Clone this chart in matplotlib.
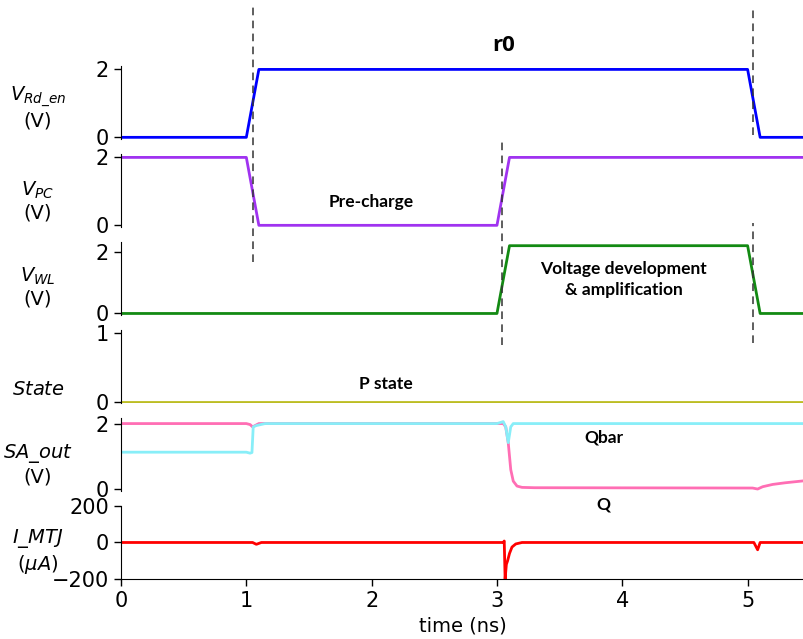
import matplotlib.pyplot as plt
from matplotlib.lines import Line2D
from matplotlib.transforms import blended_transform_factory

# time axis (ns) and waveforms
t_rd = [0, 1.0, 1.1, 5.0, 5.1, 5.45]
v_rd = [0, 0, 2, 2, 0, 0]

t_pc = [0, 1.0, 1.1, 3.0, 3.1, 5.45]
v_pc = [2, 2, 0, 0, 2, 2]

t_wl = [0, 3.0, 3.1, 5.0, 5.1, 5.45]
v_wl = [0, 0, 2.2, 2.2, 0, 0]

t_state = [0, 5.45]
v_state = [0, 0]

t_q = [0, 1.0, 1.03, 1.05, 1.1, 3.05, 3.07, 3.09, 3.11, 3.13, 3.16, 3.2, 3.3, 5.04, 5.08, 5.12, 5.2, 5.3, 5.45]
v_q = [2, 2, 1.97, 1.9, 2.0, 2.0, 1.9, 1.42, 0.6, 0.25, 0.1, 0.06, 0.05, 0.04, 0.01, 0.08, 0.15, 0.2, 0.26]

t_qbar = [0, 1.0, 1.03, 1.045, 1.055, 1.08, 1.15, 3.0, 3.05, 3.07, 3.09, 3.11, 3.13, 5.45]
v_qbar = [1.13, 1.13, 1.1, 1.12, 1.9, 1.94, 2.0, 2.0, 2.06, 1.9, 1.42, 1.9, 2.0, 2.0]

t_i = [0, 1.05, 1.08, 1.12, 3.05, 3.058, 3.065, 3.075, 3.085, 3.1, 3.12, 3.15, 3.2, 5.05, 5.08, 5.1, 5.45]
i_mtj = [0, 0, -10, 0, 0, 8, -200, -120, -100, -60, -25, -8, 0, 0, -40, 0, 0]

labels = [r'$V_{Rd\_en}$' + '\n(V)', r'$V_{PC}$' + '\n(V)', r'$V_{WL}$' + '\n(V)',
          r'$State$', r'$SA\_out$' + '\n(V)', r'$I\_MTJ$' + '\n' + r'$(\mu A)$']
label_y = [0.43, 0.36, 0.38, 0.19, 0.37, 0.38]

plt.rcParams['font.size'] = 15

fig, axes = plt.subplots(6, 1, sharex=True, figsize=(8.04, 6.39), dpi=100)
fig.subplots_adjust(left=0.1505, right=1.0, top=0.8967, bottom=0.0939, hspace=0.205)

ax1, ax2, ax3, ax4, ax5, ax6 = axes
ax1.plot(t_rd, v_rd, color='#0000ff', lw=2)
ax2.plot(t_pc, v_pc, color='#a033f0', lw=2)
ax3.plot(t_wl, v_wl, color='#138a13', lw=2)
ax4.plot(t_state, v_state, color='#bcbd22', lw=2)
ax5.plot(t_q, v_q, color='#ff6eb4', lw=2)
ax5.plot(t_qbar, v_qbar, color='#88eef8', lw=2)
ax6.plot(t_i, i_mtj, color='#ff0000', lw=2)

ax1.set_ylim(-0.05, 2.1)
ax2.set_ylim(-0.05, 2.1)
ax3.set_ylim(-0.05, 2.32)
ax4.set_ylim(-0.02, 1.04)
ax5.set_ylim(-0.05, 2.17)
ax6.set_ylim(-200, 200)
for ax, ticks in zip(axes, [[0, 2], [0, 2], [0, 2], [0, 1], [0, 2], [-200, 0, 200]]):
    ax.set_yticks(ticks)

for ax, lab, ly in zip(axes, labels, label_y):
    ax.set_ylabel(lab, rotation=0, ha='center', va='center', fontsize=14, linespacing=1.15)
    ax.yaxis.set_label_coords(-0.1215, ly)
    ax.spines['top'].set_visible(False)
    ax.spines['right'].set_visible(False)
    if ax is not ax6:
        ax.spines['bottom'].set_visible(False)
        ax.tick_params(axis='x', bottom=False)
    ax.tick_params(length=5, width=1)

ax6.set_xlim(0, 5.45)
ax6.set_xticks([0, 1, 2, 3, 4, 5])
ax6.set_xlabel('time (ns)', fontsize=14)

# annotations
ann = dict(family='Lato', fontweight='bold', ha='center', va='center', fontsize=12.5)
ax1.text(3.05, 2.69, 'r0', family='Open Sans', fontweight='bold', ha='center', va='center', fontsize=16)
ax2.text(2.0, 0.69, 'Pre-charge', **ann)
ax3.text(4.01, 1.11, 'Voltage development\n& amplification', linespacing=1.4, **ann)
ax4.text(2.11, 0.25, 'P state', **ann)
ax5.text(3.85, 1.57, 'Qbar', **ann)
ax6.text(3.85, 208, 'Q', **ann)

# dashed phase markers across panels
tr = blended_transform_factory(ax1.transData, fig.transFigure)
for x, y0, y1 in [(1.053, 0.59, 0.989), (3.04, 0.46, 0.778), (5.04, 0.789, 0.987), (5.04, 0.463, 0.651)]:
    fig.add_artist(Line2D([x, x], [y0, y1], transform=tr, color='#333333', lw=1.1, ls=(0, (5, 3.5))))

plt.savefig('out.png', dpi=100)
